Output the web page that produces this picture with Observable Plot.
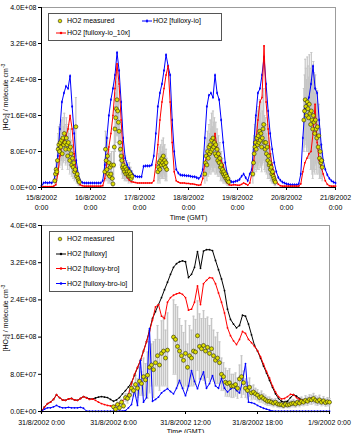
<!DOCTYPE html>
<html>
<head>
<meta charset="utf-8">
<script src="https://cdn.jsdelivr.net/npm/d3@7"></script>
<script src="https://cdn.jsdelivr.net/npm/@observablehq/plot@0.6"></script>
<style>
  html, body { margin: 0; padding: 0; background: #fff; overflow: hidden; }
  #fig { position: relative; width: 355px; height: 433px; overflow: hidden; }
  #fig svg { display: block; overflow: visible; }
</style>
</head>
<body>
<div id="fig"></div>
<script>
// ---------- axis ticks ----------
const yTicks = [0, 0.8, 1.6, 2.4, 3.2, 4.0];          // HO2 in 10^8 molecule cm^-3
const yTickLabels = ["0.0E+00", "8.0E+07", "1.6E+08", "2.4E+08", "3.2E+08", "4.0E+08"];
const topTicks = [0, 24, 48, 72, 96, 120, 144];       // hours since 15/8/2002 0:00 GMT
const topTickLabels = ["15/8/2002\n0:00", "16/8/2002\n0:00", "17/8/2002\n0:00", "18/8/2002\n0:00",
                       "19/8/2002\n0:00", "20/8/2002\n0:00", "21/8/2002\n0:00"];
const bottomTicks = [0, 6, 12, 18, 24];               // hours since 31/8/2002 0:00 GMT
const bottomTickLabels = ["31/8/2002 0:00", "31/8/2002 6:00", "31/8/2002 12:00", "31/8/2002 18:00", "1/9/2002 0:00"];

// ---------- 15-21 August: HO2 [fulloxy-io], hourly, one array per day ----------
const io15 = [0.04,0.1,0.11,0.1,0.11,0.1,0.15,0.35,0.7,1.3,1.9,2.1,2.25,2.2,2.48,1.8,1.2,0.6,0.3,0.15,0.11,0.1,0.1,0.1];
const io16 = [0.1,0.1,0.1,0.1,0.1,0.1,0.15,0.5,1.1,1.6,1.95,2.2,2.5,3.0,2.6,1.9,1.1,0.65,0.5,0.42,0.35,0.28,0.25,0.24];
const io17 = [0.24,0.24,0.47,0.48,0.48,0.48,0.5,0.7,1.2,1.8,2.1,2.3,2.6,2.95,2.7,2.5,1.5,0.8,0.4,0.32,0.28,0.27,0.27,0.26];
const io18 = [0.26,0.25,0.24,0.24,0.22,0.2,0.25,0.4,1.1,1.8,2.05,2.1,2.0,2.5,2.1,1.95,1.5,1.0,0.55,0.3,0.18,0.13,0.12,0.14];
const io19 = [0.15,0.18,0.25,0.3,0.22,0.15,0.3,0.4,1.0,1.6,2.1,2.2,2.5,2.9,2.3,1.7,1.2,0.85,0.55,0.35,0.22,0.16,0.12,0.1];
const io20 = [0.08,0.07,0.06,0.06,0.06,0.06,0.08,0.3,1.1,1.75,1.9,2.0,2.3,2.7,2.2,2.1,1.5,0.95,0.6,0.4,0.28,0.2,0.15,0.12,0.1];

// ---------- HO2 [fulloxy-io_10x], hourly ----------
const io10x15 = [0.01,0.02,0.02,0.02,0.02,0.02,0.03,0.06,0.3,0.7,0.95,1.05,1.15,1.3,1.6,1.3,0.75,0.38,0.13,0.06,0.04,0.03,0.03,0.03];
const io10x16 = [0.03,0.03,0.03,0.03,0.03,0.03,0.04,0.2,0.55,0.9,1.2,1.6,2.2,2.75,2.3,1.5,0.7,0.35,0.22,0.16,0.13,0.12,0.11,0.1];
const io10x17 = [0.1,0.1,0.1,0.1,0.1,0.1,0.1,0.15,0.5,0.95,1.5,1.9,2.2,2.5,2.7,1.9,1.0,0.35,0.15,0.12,0.1,0.1,0.1,0.09];
const io10x18 = [0.09,0.08,0.08,0.07,0.06,0.05,0.06,0.2,0.55,0.7,0.8,0.75,0.9,1.2,0.85,0.75,0.6,0.5,0.25,0.1,0.06,0.05,0.06,0.06];
const io10x19 = [0.05,0.05,0.07,0.1,0.08,0.05,0.1,0.3,0.6,1.0,1.5,1.9,2.0,3.15,1.9,1.3,0.75,0.5,0.3,0.15,0.07,0.04,0.03,0.03];
const io10x20 = [0.03,0.03,0.03,0.03,0.03,0.03,0.03,0.08,0.35,0.55,0.65,0.75,0.8,1.2,1.85,1.0,0.6,0.45,0.3,0.15,0.07,0.04,0.03,0.03,0.03];

// ---------- HO2 measured, 20-minute values with uncertainty ----------
const measStart = [6.5, 7, 9, 8, 7.5, 8.5];   // first sample of each day (hour GMT)
const meas15 = [0.15,0.3,0.4,0.35,0.6,0.85,0.95,0.8,1.0,0.9,1.05,0.75,1.1,0.95,1.2,1.0,0.85,1.1,0.95,0.7,1.0,0.85,0.6,0.9,0.75,0.5,0.65,0.45,0.55,0.35,0.4,1.35,0.25,0.3,0.2,0.15,0.12];
const err15  = [0.1,0.15,0.2,0.2,0.3,0.35,0.4,0.35,0.4,0.4,0.45,0.35,0.45,0.4,0.45,0.4,0.35,0.45,0.4,0.3,0.4,0.35,0.3,0.4,0.3,0.25,0.3,0.25,0.25,0.2,0.2,0.65,0.15,0.15,0.12,0.1,0.08];
const meas16 = [0.35,0.85,0.6,0.4,0.7,0.3,0.55,0.25,0.45,0.3,0.5,0.2,0.08,0.5,0.9,1.3,1.55,1.75,1.95,1.7,1.45,1.25,1.0,0.85,0.7,0.6,0.45,0.5,0.4,0.35,0.45,0.3,0.4,0.35,0.3,0.25,0.35,0.25,0.3,0.2,0.25];
const err16  = [0.2,0.4,0.35,0.25,0.4,0.2,0.3,0.15,0.3,0.2,0.3,0.15,0.05,0.3,0.45,0.5,0.55,0.6,0.6,0.55,0.5,0.45,0.4,0.35,0.3,0.3,0.25,0.25,0.2,0.2,0.25,0.15,0.2,0.2,0.15,0.15,0.2,0.12,0.15,0.1,0.12];
const meas17 = [0.35,0.45,0.55,0.4,0.6,0.5,0.65,0.55,0.7,0.5,0.6,0.45,0.55,0.4];
const err17  = [0.25,0.3,0.35,0.3,0.35,0.3,0.4,0.35,0.4,0.3,0.35,0.3,0.3,0.25];
const meas18 = [0.3,0.55,0.7,0.5,0.8,0.65,0.9,0.75,0.95,0.8,1.05,0.85,1.1,0.9,1.0,0.75,0.95,0.7,0.85,0.6,0.75,0.55,0.65,0.45,0.5,0.35,0.4,0.3,0.35,0.25,0.3,0.2,0.25,0.15,0.2,0.12];
const err18  = [0.2,0.3,0.4,0.35,0.45,0.4,0.5,0.45,0.55,0.5,0.6,0.5,0.6,0.55,0.55,0.45,0.5,0.4,0.45,0.35,0.4,0.3,0.35,0.3,0.3,0.2,0.25,0.2,0.2,0.15,0.15,0.12,0.12,0.1,0.1,0.08];
const meas19 = [0.3,0.55,0.75,0.9,1.0,0.85,1.1,0.95,1.15,1.0,1.25,1.05,1.2,0.9,1.1,1.3,1.4,1.0,0.85,1.0,0.75,0.9,0.6,0.7,0.5,0.55,0.4,0.45,0.3,0.35,0.25,0.2,0.15,0.12];
const err19  = [0.2,0.3,0.4,0.5,0.55,0.5,0.6,0.55,0.65,0.6,0.7,0.6,0.7,0.55,0.6,0.75,0.8,0.6,0.5,0.55,0.45,0.5,0.4,0.4,0.3,0.35,0.25,0.3,0.2,0.2,0.15,0.12,0.1,0.08];
const meas20 = [1.5,1.7,1.95,1.8,1.6,1.9,1.75,1.55,1.85,1.65,1.4,1.7,1.5,1.3,1.6,1.45,1.2,1.5,1.3,1.1,1.35,0.9,1.15,0.65,0.8,0.55,0.6,0.45];
const err20  = [0.7,0.8,0.9,0.85,0.8,1.0,0.95,0.9,1.1,1.0,1.0,1.3,1.2,1.1,1.2,1.1,0.9,1.0,0.9,0.8,0.8,0.6,0.7,0.45,0.5,0.35,0.35,0.3];

// ---------- 31 August: model runs, 15-minute values ----------
const fulloxy = [
  0,0.1,0.17,0.2, 0.26,0.36,0.3,0.25, 0.24,0.27,0.28,0.25, 0.24,0.28,0.32,0.3,
  0.27,0.27,0.29,0.31, 0.32,0.31,0.3,0.26, 0.22,0.25,0.3,0.38, 0.45,0.53,0.62,0.78,
  0.94,1.1,1.3,1.5, 1.75,2.0,2.15,2.3, 2.45,2.62,2.78,2.95, 3.1,3.18,3.22,3.24,
  3.22,2.88,2.95,3.1, 3.44,3.08,3.45,3.48, 3.48,3.46,3.25,3.05, 2.85,2.6,2.2,1.98,
  1.88,1.8,1.85,2.07, 2.05,1.88,1.65,1.42, 1.3,1.15,0.98,0.83, 0.67,0.52,0.38,0.28,
  0.22,0.2,0.22,0.3, 0.36,0.33,0.28,0.24, 0.2,0.22,0.24,0.25, 0.24,0.22,0.2,0.19, 0.18];
const fulloxyBro = [
  0,0.1,0.17,0.2, 0.26,0.36,0.3,0.25, 0.24,0.27,0.28,0.25, 0.24,0.28,0.32,0.29,
  0.26,0.27,0.24,0.2, 0.17,0.15,0.13,0.12, 0.12,0.14,0.17,0.22, 0.3,0.37,0.6,0.8,
  0.95,1.1,1.3,1.5, 1.72,1.97,2.25,2.3, 2.05,2.0,2.35,2.45, 2.5,2.53,2.55,2.52,
  2.45,2.18,2.2,2.35, 2.7,2.3,2.75,2.82, 2.88,2.87,2.75,2.55, 2.35,2.12,1.8,1.63,
  1.52,1.44,1.55,1.72, 1.68,1.55,1.48,1.4, 1.31,1.18,1.02,0.86, 0.72,0.55,0.42,0.32,
  0.27,0.28,0.32,0.37, 0.36,0.3,0.26,0.24, 0.22,0.25,0.28,0.27, 0.25,0.24,0.22,0.2, 0.2];
const fulloxyBroIo = [
  0,0.05,0.08,0.08, 0.1,0.13,0.1,0.08, 0.08,0.09,0.08,0.08, 0.08,0.09,0.07,0.01,
  0.005,0.005,0.005,0.005, 0.005,0.005,0.005,0.005, 0.005,0.005,0.01,0.01, 0.02,0.08,0.15,0.45,
  0.13,1.1,0.2,0.3, 1.78,0.22,0.26,0.31, 0.4,0.45,0.49,0.43, 0.38,0.5,0.67,0.5,
  0.34,0.55,0.88,0.65, 0.49,0.7,0.85,0.5, 0.6,0.77,0.55,0.5, 0.71,0.5,0.42,0.48,
  0.52,0.45,0.4,0.65, 1.03,0.2,0.19,0.17, 0.13,0.1,0.07,0.05, 0.03,0.01,0.005,0.005,
  0.005,0.005,0.005,0.005, 0.005,0.005,0.005,0.005, 0.005,0.005,0.005,0.005, 0.005,0.005,0.005,0.005, 0.005];

// ---------- 31 August: HO2 measured, 10-minute values from 6:00 ----------
const meas31 = [
  0.1,0.05,0.15,0.08,0.2,0.12,   0.3,0.28,0.35,0.5,0.45,0.58,   0.5,0.65,0.6,0.75,0.68,0.78,
  0.95,1.0,0.9,1.05,1.2,1.0,     1.25,1.3,1.15,1.32,null,null,  1.6,1.55,1.4,1.3,1.2,1.1,
  1.25,0.95,1.2,1.15,1.3,1.28,   1.63,1.4,1.35,1.42,1.3,1.38,   1.25,1.35,1.2,1.1,1.15,1.05,
  0.8,0.75,0.63,0.6,0.62,0.55,   0.55,0.58,0.5,0.7,0.75,0.62,   0.5,0.45,0.52,0.4,0.42,0.38,
  0.35,0.3,0.32,0.28,0.25,0.22,  0.22,0.2,0.18,0.2,0.16,0.15,   0.15,0.13,0.16,0.14,0.15,0.17,
  0.18,0.16,0.2,0.18,0.22,0.2,   0.24,0.22,0.26,0.25,0.28,0.24, 0.22,0.25,0.2,0.23,0.19,0.21, 0.2];
const err31 = [
  0.04,0.03,0.05,0.04,0.06,0.05, 0.08,0.1,0.09,0.15,0.12,0.2,   0.2,0.3,0.25,0.4,0.35,0.5,
  0.55,0.45,0.6,0.5,0.65,0.55,   0.7,0.75,0.6,0.8,null,null,    0.8,0.75,0.85,0.7,0.65,0.6,
  0.7,0.5,0.65,0.6,0.75,0.7,     0.75,0.7,0.65,0.75,0.7,0.65,   0.6,0.65,0.55,0.5,0.55,0.45,
  0.35,0.3,0.3,0.28,0.3,0.25,    0.25,0.25,0.22,0.3,0.45,0.25,  0.2,0.18,0.2,0.15,0.15,0.12,
  0.12,0.1,0.12,0.1,0.1,0.09,    0.09,0.08,0.08,0.08,0.07,0.07, 0.07,0.06,0.07,0.06,0.07,0.07,
  0.08,0.07,0.08,0.08,0.09,0.08, 0.1,0.09,0.1,0.1,0.11,0.1,     0.09,0.1,0.08,0.09,0.08,0.09, 0.08];

// ---------- tables ----------
const joinDays = days => days.flatMap((d, k) => d.map((v, i) => ({t: 24 * k + i, v})));
const ioTop = joinDays([io15, io16, io17, io18, io19, io20]);
const io10xTop = joinDays([io10x15, io10x16, io10x17, io10x18, io10x19, io10x20]);
const measTop = [[meas15, err15], [meas16, err16], [meas17, err17], [meas18, err18], [meas19, err19], [meas20, err20]]
  .flatMap(([vals, errs], k) => vals.map((v, i) => ({t: 24 * k + measStart[k] + i / 3, v, e: errs[i]})));
const quarterHourly = arr => arr.map((v, i) => ({t: i / 4, v}));
const lineFulloxy = quarterHourly(fulloxy);
const lineBro = quarterHourly(fulloxyBro);
const lineBroIo = quarterHourly(fulloxyBroIo);
const measBottom = meas31.map((v, i) => ({t: 6 + i / 6, v, e: err31[i]})).filter(d => d.v != null);

// ---------- shared styling ----------
const font = "'Liberation Sans', Arial, Helvetica, sans-serif";
const barGray = "#c6c6c6";
const capSymbol = {draw(ctx, size) { const r = Math.sqrt(size / Math.PI); ctx.moveTo(-r, 0); ctx.lineTo(r, 0); }};
const yFmt = d => yTickLabels[yTicks.findIndex(t => Math.abs(t - d) < 1e-9)];

function measuredMarks(data, w) {
  return [
    Plot.ruleX(data, {x: "t", y1: d => Math.max(0, d.v - d.e), y2: d => d.v + d.e, stroke: barGray, strokeWidth: w}),
    Plot.dot(data, {x: "t", y: d => d.v + d.e, symbol: capSymbol, r: 1.1, stroke: barGray, strokeWidth: 0.9}),
    Plot.dot(data, {x: "t", y: d => Math.max(0, d.v - d.e), symbol: capSymbol, r: 1.1, stroke: barGray, strokeWidth: 0.9})
  ];
}
const measuredDots = data => Plot.dot(data, {x: "t", y: "v", r: 2, fill: "#dede00", stroke: "#2b2b10", strokeWidth: 0.6});

function axisMarks(xTicks, xLabels, xPad, lineHeight, timeDy) {
  return [
    Plot.ruleX([xTicks[0]], {stroke: "#000"}),
    Plot.ruleY([0], {stroke: "#000"}),
    Plot.axisY({ticks: yTicks, tickFormat: yFmt, tickSize: 3, tickPadding: 2, label: null}),
    Plot.axisX({ticks: xTicks, tickFormat: d => xLabels[xTicks.indexOf(d)], tickSize: 3, tickPadding: xPad,
                lineHeight, label: null}),
    Plot.text(["Time (GMT)"], {frameAnchor: "bottom", dy: timeDy, text: d => d, lineAnchor: "middle"})
  ];
}

function addYTitle(svg) {
  const ys = svg.scale("y");
  const cy = (ys.apply(0) + ys.apply(4)) / 2;
  const t = d3.select(svg).append("text")
    .attr("transform", `translate(7.5,${cy}) rotate(-90)`)
    .attr("text-anchor", "middle").attr("font-size", 7).attr("fill", "#000");
  t.append("tspan").text("[HO");
  t.append("tspan").attr("font-size", 5).attr("dy", 1.6).text("2");
  t.append("tspan").attr("dy", -1.6).text("] / molecule cm");
  t.append("tspan").attr("font-size", 5).attr("dy", -2.6).text("-3");
}

function addLegend(svg, box, items) {
  const g = d3.select(svg).append("g").attr("font-size", 7).attr("fill", "#000").attr("text-anchor", "start");
  g.append("rect").attr("x", box[0]).attr("y", box[1]).attr("width", box[2]).attr("height", box[3])
    .attr("fill", "#fff").attr("stroke", "#555").attr("stroke-width", 1);
  for (const it of items) {
    if (it.kind === "meas") {
      g.append("circle").attr("cx", it.x + 4).attr("cy", it.y).attr("r", 1.8)
        .attr("fill", "#dede00").attr("stroke", "#2b2b10").attr("stroke-width", 0.6);
    } else {
      g.append("line").attr("x1", it.x).attr("x2", it.x + 10).attr("y1", it.y).attr("y2", it.y)
        .attr("stroke", it.color).attr("stroke-width", 1);
      g.append("path").attr("transform", `translate(${it.x + 5},${it.y})`)
        .attr("d", d3.symbol(it.symbol, 5)()).attr("fill", it.color);
    }
    g.append("text").attr("x", it.x + 11).attr("y", it.y).attr("dy", "0.35em")
      .attr("text-anchor", "start").text(it.label);
  }
}

const style = {fontFamily: font, fontSize: "7px", color: "#000", background: "transparent", overflow: "visible"};

// ---------- top panel: 15-21 August ----------
const topPlot = Plot.plot({
  width: 355, height: 220,
  marginTop: 7, marginLeft: 41, marginRight: 20, marginBottom: 33,
  style,
  x: {domain: [0, 144]},
  y: {domain: [0, 4]},
  marks: [
    Plot.frame({stroke: "#9c9c9c"}),
    ...measuredMarks(measTop, 1.2),
    Plot.line(ioTop, {x: "t", y: "v", stroke: "#0000ff", strokeWidth: 1}),
    Plot.dot(ioTop, {x: "t", y: "v", r: 1.1, symbol: "diamond", fill: "#0000ff"}),
    Plot.line(io10xTop, {x: "t", y: "v", stroke: "#ff0000", strokeWidth: 1}),
    Plot.dot(io10xTop, {x: "t", y: "v", r: 0.9, symbol: "square", fill: "#ff0000"}),
    measuredDots(measTop),
    ...axisMarks(topTicks, topTickLabels, 3.5, 1.3, 30)
  ]
});
addYTitle(topPlot);
addLegend(topPlot, [48.5, 13.5, 173, 27], [
  {kind: "meas", x: 56, y: 21, label: "HO2 measured"},
  {kind: "line", x: 142, y: 21, color: "#0000ff", symbol: d3.symbolDiamond, label: "HO2 [fulloxy-io]"},
  {kind: "line", x: 56, y: 33, color: "#ff0000", symbol: d3.symbolSquare, label: "HO2 [fulloxy-io_10x]"}
]);

// ---------- bottom panel: 31 August ----------
const bottomPlot = Plot.plot({
  width: 355, height: 213,
  marginTop: 5, marginLeft: 41, marginRight: 26, marginBottom: 22,
  style,
  x: {domain: [0, 24]},
  y: {domain: [0, 4]},
  marks: [
    Plot.frame({stroke: "#9c9c9c"}),
    ...measuredMarks(measBottom, 1.5),
    Plot.line(lineFulloxy, {x: "t", y: "v", stroke: "#000", strokeWidth: 1}),
    Plot.dot(lineFulloxy, {x: "t", y: "v", r: 0.9, fill: "#000"}),
    Plot.line(lineBro, {x: "t", y: "v", stroke: "#ff0000", strokeWidth: 1}),
    Plot.dot(lineBro, {x: "t", y: "v", r: 0.9, fill: "#ff0000"}),
    Plot.line(lineBroIo, {x: "t", y: "v", stroke: "#0000ff", strokeWidth: 1}),
    Plot.dot(lineBroIo, {x: "t", y: "v", r: 0.9, fill: "#0000ff"}),
    measuredDots(measBottom),
    ...axisMarks(bottomTicks, bottomTickLabels, 4.5, 1.2, 20)
  ]
});
addYTitle(bottomPlot);
addLegend(bottomPlot, [49.5, 11.5, 83, 60], [
  {kind: "meas", x: 56, y: 19, label: "HO2 measured"},
  {kind: "line", x: 56, y: 34, color: "#000", symbol: d3.symbolCircle, label: "HO2 [fulloxy]"},
  {kind: "line", x: 56, y: 48.5, color: "#ff0000", symbol: d3.symbolCircle, label: "HO2 [fulloxy-bro]"},
  {kind: "line", x: 56, y: 63.5, color: "#0000ff", symbol: d3.symbolCircle, label: "HO2 [fulloxy-bro-io]"}
]);

const fig = document.getElementById("fig");
fig.append(topPlot, bottomPlot);
</script>
</body>
</html>
